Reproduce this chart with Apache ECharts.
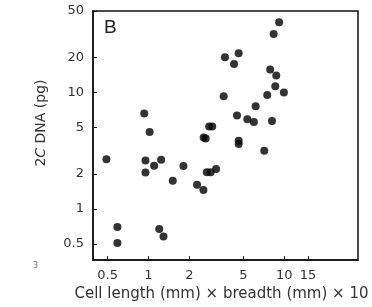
<!DOCTYPE html>
<html>
<head>
<meta charset="utf-8">
<script src="https://cdn.jsdelivr.net/npm/echarts@6/dist/echarts.min.js"></script>
<style>
  html, body { margin: 0; padding: 0; background: #fff; }
  #chart { width: 372px; height: 307px; }
</style>
</head>
<body>
<div id="chart"></div>
<script>
// cell size (length x breadth x 10) vs 2C DNA (pg)
var cellSize = [0.49, 0.59, 0.59, 0.93, 1.02, 0.95, 0.95, 1.10, 1.24, 1.20, 1.29, 1.51, 1.81, 2.28, 2.54,
  2.64, 2.80, 2.95, 2.69, 2.87, 3.15, 3.58, 3.66, 4.27, 4.62, 4.49, 4.62, 4.62, 5.35, 5.98, 6.16,
  7.13, 7.50, 7.89, 8.13, 8.36, 8.74, 8.60, 9.18, 9.95, 2.55];
var dnaPg = [2.67, 0.70, 0.51, 6.6, 4.57, 2.6, 2.05, 2.35, 2.64, 0.67, 0.58, 1.74, 2.33, 1.61, 1.45,
  4.02, 5.1, 5.1, 2.06, 2.06, 2.2, 9.25, 20, 17.5, 21.7, 6.32, 3.85, 3.6, 5.89, 5.56, 7.62,
  3.16, 9.5, 15.7, 5.69, 31.7, 14.0, 11.3, 40, 10, 4.1];
var xTicks = [0.5, 1, 2, 5, 10, 15];
var yTicks = [0.5, 1, 2, 5, 10, 20, 50];

var points = [];
for (var i = 0; i < cellSize.length; i++) {
  points.push([cellSize[i], dnaPg[i]]);
}

var font = 'DejaVu Sans, sans-serif';
var chart = echarts.init(document.getElementById('chart'));
chart.setOption({
  animation: false,
  grid: {
    left: 93, right: 14, top: 11, bottom: 46,
    show: true, borderColor: '#111', borderWidth: 1.5
  },
  xAxis: {
    type: 'log',
    min: 0.39,
    max: 35,
    name: 'Cell length (mm) \u00d7 breadth (mm) \u00d7 10',
    nameLocation: 'middle',
    nameGap: 24,
    nameTextStyle: { fontFamily: font, fontSize: 15, color: '#333', padding: [0, 8, 0, 0] },
    axisLine: { show: true, lineStyle: { color: '#111', width: 1.5 } },
    axisTick: { show: true, inside: true, length: 4, customValues: xTicks, lineStyle: { color: '#111' } },
    axisLabel: { customValues: xTicks, fontFamily: font, fontSize: 13, color: '#333', margin: 9 },
    splitLine: { show: false },
    minorTick: { show: false }
  },
  yAxis: {
    type: 'log',
    min: 0.363,
    max: 50,
    axisLine: { show: true, lineStyle: { color: '#111', width: 1.5 } },
    axisTick: { show: true, inside: true, length: 4, customValues: yTicks, lineStyle: { color: '#111' } },
    axisLabel: { customValues: yTicks, fontFamily: font, fontSize: 13, color: '#333', margin: 9 },
    splitLine: { show: false },
    minorTick: { show: false }
  },
  graphic: [
    {
      type: 'text', x: 41, y: 123, rotation: Math.PI / 2,
      style: {
        text: '{a|2}{i|C}{a| DNA (pg)}',
        align: 'center', verticalAlign: 'middle',
        rich: {
          a: { fontFamily: font, fontSize: 14, fill: '#333' },
          i: { fontFamily: font, fontSize: 14, fill: '#333', fontStyle: 'italic' }
        }
      }
    },
    { type: 'text', left: 104, top: 18, style: { text: 'B', font: '19px Liberation Sans, Arial, sans-serif', fill: '#222' } },
    { type: 'text', left: 33, top: 262, style: { text: '3', font: '8px ' + font, fill: '#777' } }
  ],
  series: [{
    type: 'scatter',
    data: points,
    symbol: 'circle',
    symbolSize: 8,
    itemStyle: { color: '#000' }
  }]
});
</script>
</body>
</html>
